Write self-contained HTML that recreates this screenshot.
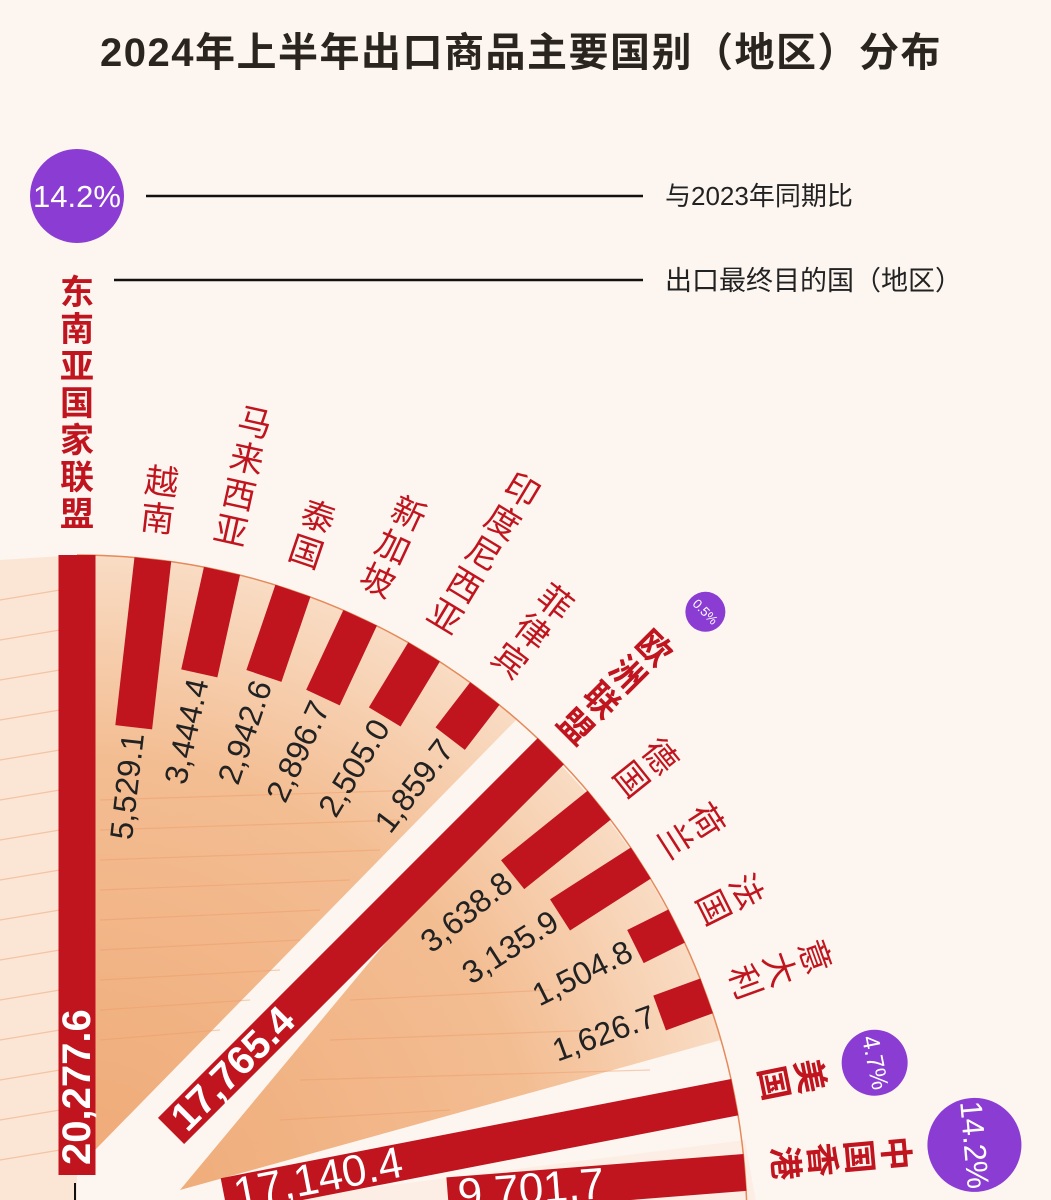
<!DOCTYPE html>
<html><head><meta charset="utf-8"><style>
html,body{margin:0;padding:0;background:#fdf6f0;}
body{width:1051px;height:1200px;overflow:hidden;}
svg{display:block}
.cn{font-family:"Liberation Sans","Noto Sans CJK SC",sans-serif;}
.num{font-family:"Liberation Sans Narrow","Liberation Sans",sans-serif;}
</style></head><body>
<svg width="1051" height="1200" viewBox="0 0 1051 1200" xmlns="http://www.w3.org/2000/svg">
<defs>
<radialGradient id="g1" cx="77" cy="1225" r="670" gradientUnits="userSpaceOnUse">
<stop offset="0" stop-color="#efa874"/><stop offset="0.7" stop-color="#f3bd92"/><stop offset="1" stop-color="#f9dcc4"/>
</radialGradient>
<clipPath id="fanclip"><path d="M77,1225 L-50,1200 L-50,555 L77,555 A670,670 0 0 1 747,1225 Z"/></clipPath>
</defs>
<rect width="1051" height="1200" fill="#fdf6f0"/>
<text x="521" y="66" text-anchor="middle" class="cn" font-size="40" font-weight="bold" fill="#2b2520" letter-spacing="1.5">2024年上半年出口商品主要国别（地区）分布</text>

<circle cx="77" cy="196" r="47" fill="#8b3dd3"/>
<text x="77" y="207" text-anchor="middle" class="num" font-size="31" fill="#fff">14.2%</text>
<line x1="146" y1="196" x2="643" y2="196" stroke="#111" stroke-width="2.5"/>
<text x="665" y="205" class="cn" font-size="26" fill="#222">与2023年同期比</text>
<line x1="114" y1="280" x2="643" y2="280" stroke="#111" stroke-width="2.5"/>
<text x="665" y="290" class="cn" font-size="27" fill="#222">出口最终目的国（地区）</text>

<!-- fan backgrounds -->
<path d="M77,1225 L0,1225 L0,560 L77,555 Z" fill="#fbe6d6"/>
<path d="M95,1150 L95,555.2 A670,670 0 0 1 517,719 Z" fill="url(#g1)"/>
<path d="M180,1190 L546,750 A670,670 0 0 1 721,1040 Z" fill="url(#g1)"/>
<path d="M77,1225 L300,1225 L760,1225 L745,1140 Z" fill="#fbe9dc" opacity="0.6"/>
<g clip-path="url(#fanclip)" stroke="#ee9a66" stroke-width="1.2" opacity="0.45">
<line x1="0" y1="600" x2="60" y2="590"/><line x1="0" y1="640" x2="60" y2="630"/><line x1="0" y1="680" x2="60" y2="670"/>
<line x1="0" y1="720" x2="60" y2="710"/><line x1="0" y1="760" x2="60" y2="750"/><line x1="0" y1="800" x2="60" y2="790"/>
<line x1="0" y1="840" x2="60" y2="830"/><line x1="0" y1="880" x2="60" y2="870"/><line x1="0" y1="920" x2="60" y2="910"/>
<line x1="0" y1="960" x2="60" y2="950"/><line x1="0" y1="1000" x2="60" y2="990"/><line x1="0" y1="1040" x2="60" y2="1030"/>
<line x1="0" y1="1080" x2="60" y2="1070"/><line x1="0" y1="1120" x2="60" y2="1110"/><line x1="0" y1="1160" x2="60" y2="1150"/>
<line x1="100" y1="800" x2="420" y2="790"/><line x1="100" y1="830" x2="400" y2="820"/><line x1="100" y1="860" x2="380" y2="850"/>
<line x1="100" y1="890" x2="350" y2="880"/><line x1="100" y1="920" x2="320" y2="910"/><line x1="100" y1="950" x2="300" y2="940"/>
<line x1="100" y1="980" x2="280" y2="970"/><line x1="100" y1="1010" x2="250" y2="1000"/><line x1="100" y1="1040" x2="220" y2="1030"/>
<line x1="350" y1="1000" x2="550" y2="990"/><line x1="330" y1="1040" x2="600" y2="1030"/><line x1="300" y1="1080" x2="650" y2="1070"/>
<line x1="280" y1="1120" x2="450" y2="1110"/>
</g>
<path d="M77,555 A670,670 0 0 1 747,1225" fill="none" stroke="#e58a5a" stroke-width="1.5"/>
<line x1="75" y1="1183" x2="75" y2="1200" stroke="#111" stroke-width="2"/>

<g fill="#c0141e">
<g transform="translate(77,1225) rotate(0)"><rect x="-18.5" y="-670" width="37" height="620"/>
<text transform="translate(0,-60) rotate(-90)" class="num" font-size="40" font-weight="bold" fill="#fff" dominant-baseline="central">20,277.6</text></g>
<g transform="translate(77,1225) rotate(6.5)"><rect x="-18.5" y="-670" width="37" height="169"/>
<text transform="translate(0,-495) rotate(-90)" class="num" font-size="32" fill="#222" text-anchor="end" dominant-baseline="central">5,529.1</text></g>
<g transform="translate(77,1225) rotate(12.5)"><rect x="-18.5" y="-670" width="37" height="105"/>
<text transform="translate(0,-559) rotate(-90)" class="num" font-size="32" fill="#222" text-anchor="end" dominant-baseline="central">3,444.4</text></g>
<g transform="translate(77,1225) rotate(18.8)"><rect x="-18.5" y="-670" width="37" height="90"/>
<text transform="translate(0,-574) rotate(-90)" class="num" font-size="32" fill="#222" text-anchor="end" dominant-baseline="central">2,942.6</text></g>
<g transform="translate(77,1225) rotate(25)"><rect x="-18.5" y="-670" width="37" height="88"/>
<text transform="translate(0,-576) rotate(-90)" class="num" font-size="32" fill="#222" text-anchor="end" dominant-baseline="central">2,896.7</text></g>
<g transform="translate(77,1225) rotate(31.2)"><rect x="-18.5" y="-670" width="37" height="76"/>
<text transform="translate(0,-588) rotate(-90)" class="num" font-size="32" fill="#222" text-anchor="end" dominant-baseline="central">2,505.0</text></g>
<g transform="translate(77,1225) rotate(37.5)"><rect x="-18.5" y="-670" width="37" height="57"/>
<text transform="translate(0,-607) rotate(-90)" class="num" font-size="32" fill="#222" text-anchor="end" dominant-baseline="central">1,859.7</text></g>
<g transform="translate(77,1225) rotate(45)"><rect x="-18.5" y="-670" width="37" height="537"/>
<text transform="translate(0,-143) rotate(-90)" class="num" font-size="40" font-weight="bold" fill="#fff" dominant-baseline="central">17,765.4</text></g>
<g transform="translate(77,1225) rotate(51.2)"><rect x="-18.5" y="-670" width="37" height="111"/>
<text transform="translate(0,-553) rotate(-90)" class="num" font-size="32" fill="#222" text-anchor="end" dominant-baseline="central">3,638.8</text></g>
<g transform="translate(77,1225) rotate(57.3)"><rect x="-18.5" y="-670" width="37" height="96"/>
<text transform="translate(0,-568) rotate(-90)" class="num" font-size="32" fill="#222" text-anchor="end" dominant-baseline="central">3,135.9</text></g>
<g transform="translate(77,1225) rotate(63.5)"><rect x="-18.5" y="-670" width="37" height="46"/>
<text transform="translate(0,-618) rotate(-90)" class="num" font-size="32" fill="#222" text-anchor="end" dominant-baseline="central">1,504.8</text></g>
<g transform="translate(77,1225) rotate(70)"><rect x="-18.5" y="-670" width="37" height="50"/>
<text transform="translate(0,-614) rotate(-90)" class="num" font-size="32" fill="#222" text-anchor="end" dominant-baseline="central">1,626.7</text></g>
<g transform="translate(77,1225) rotate(79)"><rect x="-18.5" y="-670" width="37" height="520"/>
<text transform="translate(0,-160) rotate(-90)" class="num" font-size="44" fill="#fff" dominant-baseline="central">17,140.4</text></g>
<g transform="translate(77,1225) rotate(85.5)"><rect x="-18.5" y="-670" width="37" height="298"/>
<text transform="translate(0,-382) rotate(-90)" class="num" font-size="44" fill="#fff" dominant-baseline="central">9,701.7</text></g>
</g>

<g class="cn" fill="#c0141e" font-size="34" text-anchor="middle" dominant-baseline="central">
<g transform="translate(77,1225) rotate(0)" font-weight="bold">
<text y="-932">东</text><text y="-895">南</text><text y="-858">亚</text><text y="-821">国</text><text y="-784">家</text><text y="-747">联</text><text y="-710">盟</text></g>
<g transform="translate(77,1225) rotate(6.5)"><text y="-747">越</text><text y="-710">南</text></g>
<g transform="translate(77,1225) rotate(12.5)"><text y="-821">马</text><text y="-784">来</text><text y="-747">西</text><text y="-710">亚</text></g>
<g transform="translate(77,1225) rotate(18.8)"><text y="-747">泰</text><text y="-710">国</text></g>
<g transform="translate(77,1225) rotate(25)"><text y="-784">新</text><text y="-747">加</text><text y="-710">坡</text></g>
<g transform="translate(77,1225) rotate(31.2)"><text y="-858">印</text><text y="-821">度</text><text y="-784">尼</text><text y="-747">西</text><text y="-710">亚</text></g>
<g transform="translate(77,1225) rotate(37.5)"><text y="-784">菲</text><text y="-747">律</text><text y="-710">宾</text></g>
<g transform="translate(77,1225) rotate(45)" font-weight="bold"><text y="-815">欧</text><text y="-778">洲</text><text y="-741">联</text><text y="-704">盟</text></g>
<g transform="translate(77,1225) rotate(51.2)"><text y="-747">德</text><text y="-710">国</text></g>
<g transform="translate(77,1225) rotate(57.3)"><text y="-747">荷</text><text y="-710">兰</text></g>
<g transform="translate(77,1225) rotate(63.5)"><text y="-747">法</text><text y="-710">国</text></g>
<g transform="translate(77,1225) rotate(70)"><text y="-784">意</text><text y="-747">大</text><text y="-710">利</text></g>
<g transform="translate(77,1225) rotate(78.5)" font-weight="bold"><text y="-747">美</text><text y="-710">国</text></g>
<g transform="translate(77,1225) rotate(85)" font-weight="bold"><text y="-821">中</text><text y="-784">国</text><text y="-747">香</text><text y="-710">港</text></g>
</g>

<g class="num" fill="#fff" text-anchor="middle" dominant-baseline="central">
<g transform="translate(77,1225) rotate(45.7) translate(0,-878)"><circle r="20" fill="#8b3dd3"/><text font-size="13">0.5%</text></g>
<g transform="translate(77,1225) rotate(78.5) translate(0,-814)"><circle r="33" fill="#8b3dd3"/><text font-size="24">4.7%</text></g>
<g transform="translate(77,1225) rotate(84.9) translate(0,-901)"><circle r="47" fill="#8b3dd3"/><text font-size="31">14.2%</text></g>
</g>
</svg>
</body></html>
